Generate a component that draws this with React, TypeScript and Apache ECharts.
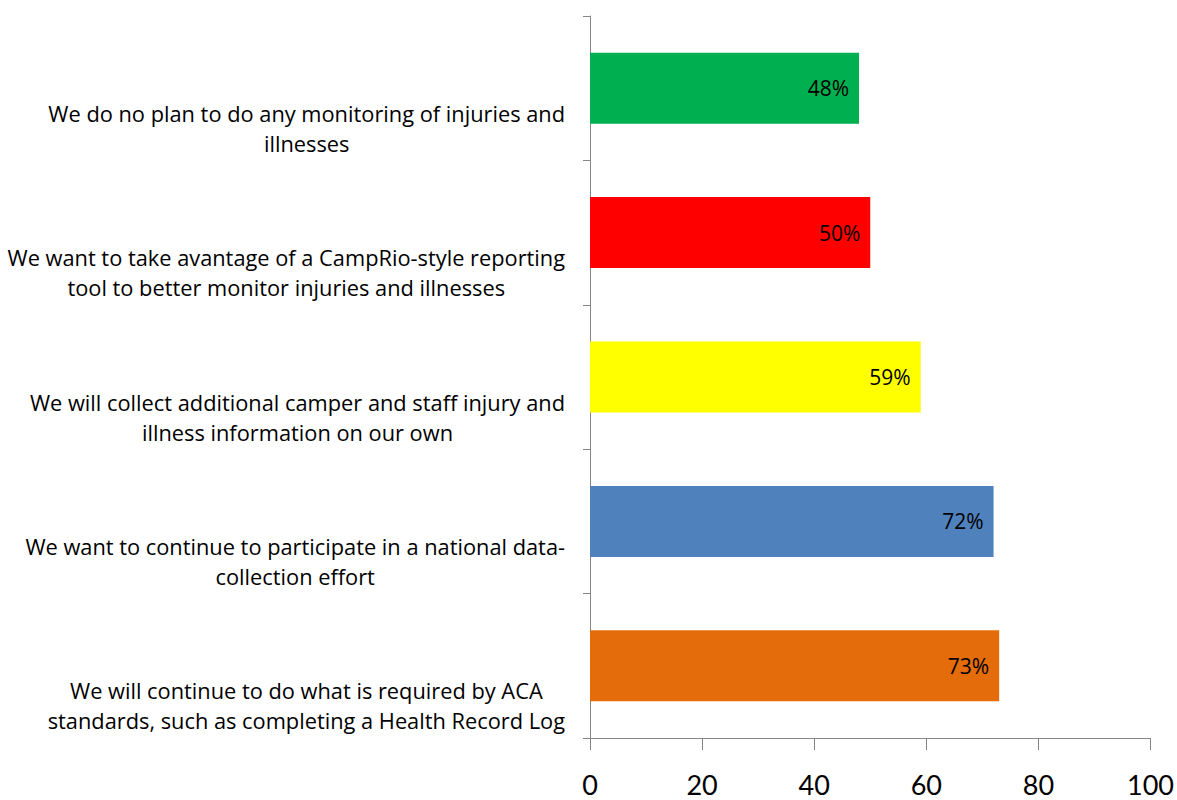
import React, { useEffect, useRef } from "react";
import * as echarts from "echarts";

const categories = [
  "We do no plan to do any monitoring of injuries and\nillnesses",
  "We want to take avantage of a CampRio-style reporting\ntool to better monitor injuries and illnesses",
  "We will collect additional camper and staff injury and\nillness information on our own",
  "We want to continue to participate in a national data-\ncollection effort",
  "We will continue to do what is required by ACA\nstandards, such as completing a Health Record Log",
];
const values = [48, 50, 59, 72, 73];
const barColors = ["#00B050", "#FF0000", "#FFFF00", "#4F81BD", "#E46C0A"];
const xTicks = [0, 20, 40, 60, 80, 100];

const FONT = "'Open Sans', Lato, sans-serif";

export default function App() {
  const ref = useRef<HTMLDivElement>(null);
  useEffect(() => {
    if (!ref.current) return;
    const chart = echarts.init(ref.current, null, { renderer: "svg" });
    chart.setOption({
      animation: false,
      backgroundColor: "#ffffff",
      grid: { left: 590, right: 26, top: 16, bottom: 62, containLabel: false },
      xAxis: {
        type: "value",
        min: xTicks[0],
        max: xTicks[xTicks.length - 1],
        interval: 20,
        splitLine: { show: false },
        axisLine: { show: true, lineStyle: { color: "#868686", width: 1 } },
        axisTick: { show: true, length: 12, lineStyle: { color: "#868686" } },
        axisLabel: {
          color: "#000",
          fontSize: 27,
          fontFamily: "Lato, sans-serif",
          margin: 33,
        },
      },
      yAxis: {
        type: "category",
        inverse: true,
        data: categories,
        axisLine: { show: true, lineStyle: { color: "#868686", width: 1 } },
        axisTick: { show: true, length: 7, lineStyle: { color: "#868686" } },
        axisLabel: {
          margin: 25,
          verticalAlign: "top",
          padding: [10, 0, 0, 0],
          formatter: (v: string) =>
            v
              .split("\n")
              .map((l) => `{c|${l}}`)
              .join("\n"),
          rich: {
            c: {
              align: "center",
              fontSize: 21.8,
              lineHeight: 30,
              fontFamily: FONT,
              color: "#000",
            },
          },
        },
      },
      series: [
        {
          type: "bar",
          barWidth: 71,
          data: values.map((v, i) => ({
            value: v,
            itemStyle: { color: barColors[i] },
          })),
          label: {
            show: true,
            position: "insideRight",
            offset: [-5, 0],
            formatter: (p: any) => `${p.value}%`,
            color: "#000",
            fontSize: 21,
            fontFamily: FONT,
          },
        },
      ],
    });
    return () => chart.dispose();
  }, []);
  return <div ref={ref} style={{ width: 1177, height: 800, position: "absolute", left: 0, top: 0 }} />;
}
